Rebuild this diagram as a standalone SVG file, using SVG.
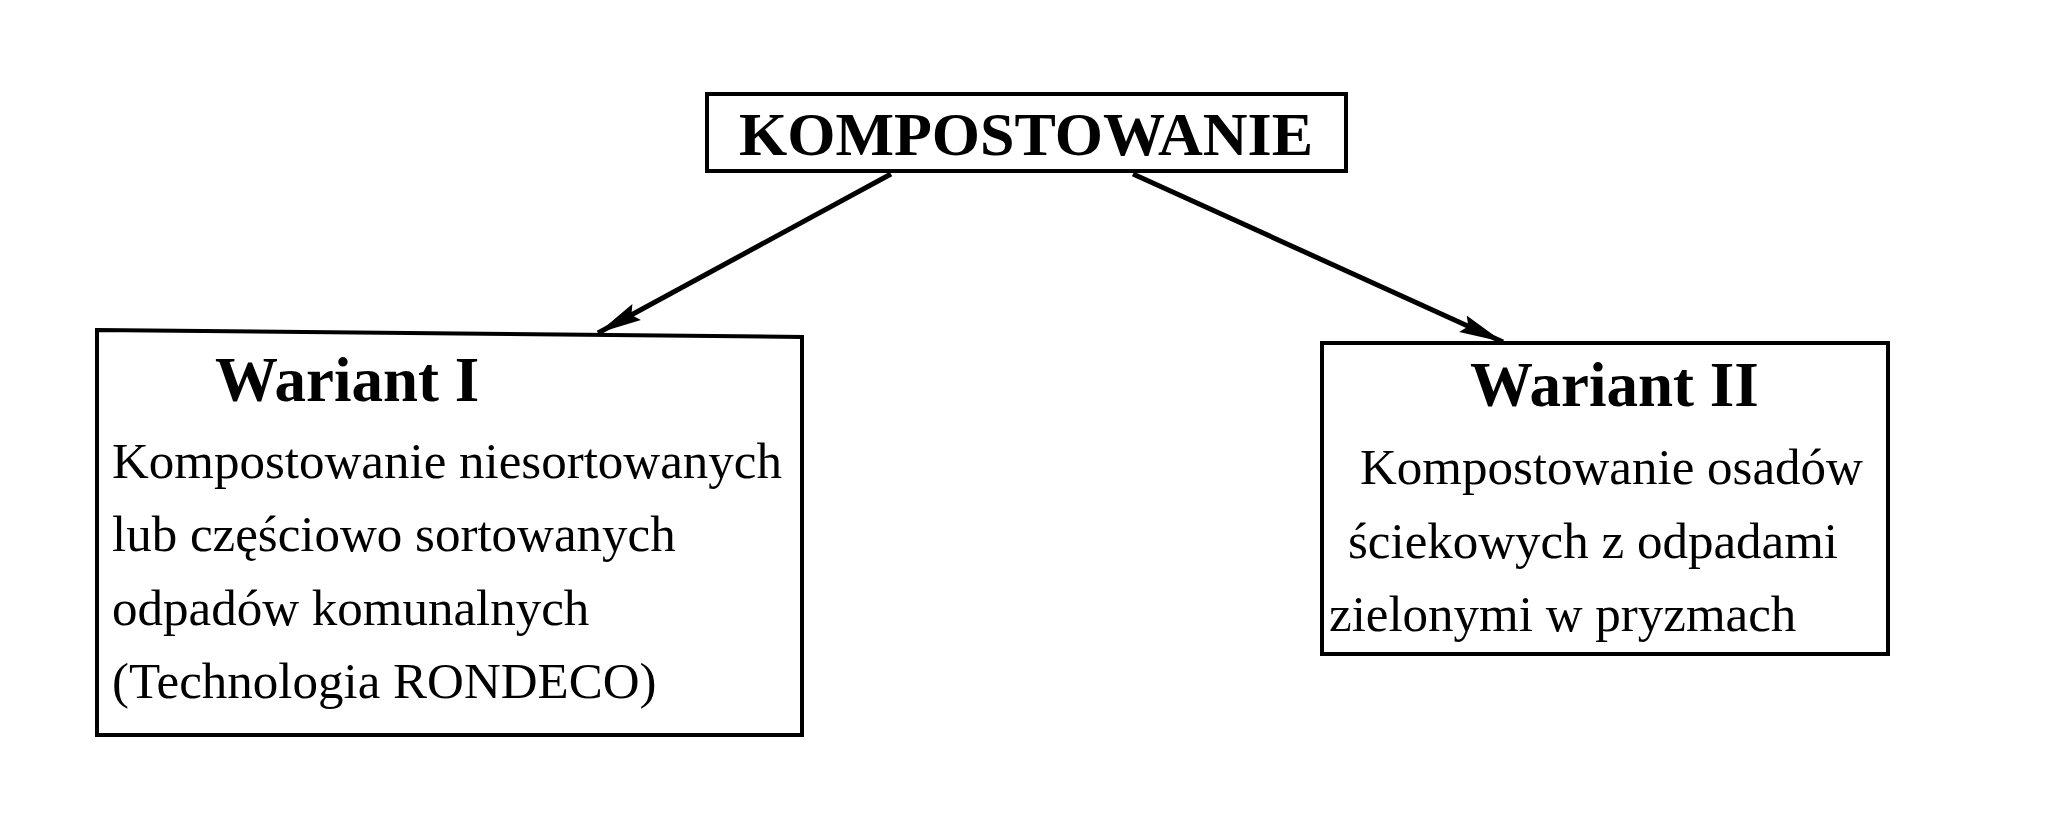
<svg xmlns="http://www.w3.org/2000/svg" width="2048" height="825" viewBox="0 0 2048 825">
<style>
.box{fill:#fff;stroke:#000;stroke-width:4;stroke-linejoin:miter}
.t{font-family:"Liberation Serif","Times New Roman",serif;fill:#000}
.b{font-weight:bold}
.body{font-size:51px}
.head{font-size:63px}
.conn{stroke:#000;stroke-width:5;fill:none}
</style>
<defs>
<marker id="ah" markerUnits="userSpaceOnUse" markerWidth="48" markerHeight="24" refX="44" refY="11" orient="auto">
<path d="M0,2 L44,11 L0,20 L6,11 Z" fill="#000"/>
</marker>
</defs>
<rect width="2048" height="825" fill="#fff"/>
<g id="connectors">
<line class="conn" x1="891" y1="174" x2="598" y2="333" marker-end="url(#ah)"/>
<line class="conn" x1="1133" y1="174" x2="1503" y2="342" marker-end="url(#ah)"/>
</g>
<g id="kompostowanie">
<rect class="box" x="707" y="94" width="639" height="77"/>
<text class="t b" x="1026" y="155" font-size="62" text-anchor="middle" textLength="574" lengthAdjust="spacing">KOMPOSTOWANIE</text>
</g>
<g id="wariant1">
<path class="box" d="M97,330 L802,337 L802,735 L97,735 Z"/>
<text class="t b head" x="215" y="401">Wariant I</text>
<text class="t body" x="112" y="478">Kompostowanie niesortowanych</text>
<text class="t body" x="112" y="551">lub częściowo sortowanych</text>
<text class="t body" x="112" y="625">odpadów komunalnych</text>
<text class="t body" x="112" y="698">(Technologia RONDECO)</text>
</g>
<g id="wariant2">
<rect class="box" x="1322" y="343" width="566" height="311"/>
<text class="t b head" x="1470" y="406">Wariant II</text>
<text class="t body" x="1360" y="484">Kompostowanie osadów</text>
<text class="t body" x="1348" y="558">ściekowych z odpadami</text>
<text class="t body" x="1329" y="631">zielonymi w pryzmach</text>
</g>
</svg>
